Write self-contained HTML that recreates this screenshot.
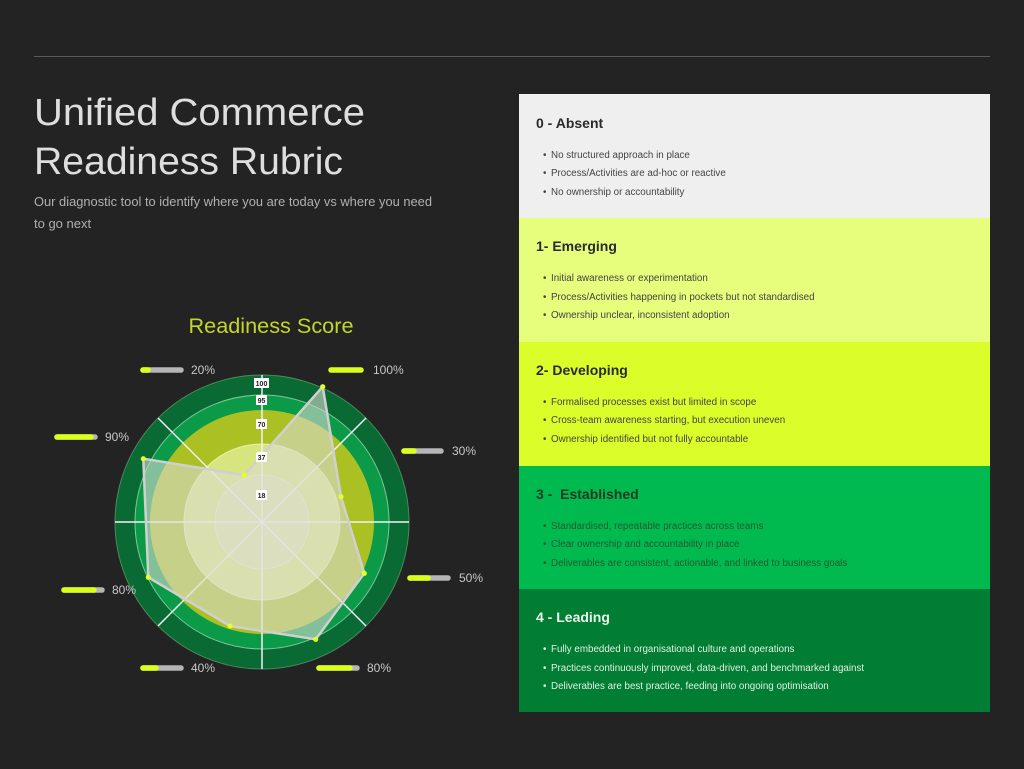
<!DOCTYPE html>
<html><head><meta charset="utf-8"><style>
html,body{margin:0;padding:0;background:#232323;}
svg{display:block;font-family:"Liberation Sans",sans-serif;}
</style></head><body>
<svg width="1024" height="769" viewBox="0 0 1024 769" xmlns="http://www.w3.org/2000/svg">
<rect width="1024" height="769" fill="#232323"/>
<line x1="34" y1="56.5" x2="990" y2="56.5" stroke="#5a5a5a" stroke-width="1"/>
<text x="34" y="125" font-size="38" fill="#dedede" textLength="331" lengthAdjust="spacingAndGlyphs">Unified Commerce</text>
<text x="34" y="174" font-size="38" fill="#dedede" textLength="309" lengthAdjust="spacingAndGlyphs">Readiness Rubric</text>
<text x="34" y="206" font-size="13" fill="#b0b0b0" textLength="398" lengthAdjust="spacingAndGlyphs">Our diagnostic tool to identify where you are today vs where you need</text>
<text x="34" y="228" font-size="13" fill="#b0b0b0">to go next</text>

<text x="271" y="333" font-size="21" fill="#c3d62a" text-anchor="middle" textLength="165" lengthAdjust="spacingAndGlyphs">Readiness Score</text>

<g transform="translate(262,522)">
<circle r="147" fill="#0a6a33" stroke="#4a8a5a" stroke-width="1"/>
<circle r="127" fill="#0a9a48" stroke="#7fc79a" stroke-width="1"/>
<circle r="112" fill="#abc022"/>
<circle r="78" fill="#d6e57e" stroke="#e8f0b0" stroke-width="1"/>
<circle r="47" fill="#dde3a8" stroke="#e8ecc8" stroke-width="1"/>
<g stroke="#f2f2f2" stroke-width="1.5">
<line x1="-147" y1="0" x2="147" y2="0"/>
<line x1="0" y1="-147" x2="0" y2="147"/>
<line x1="-104" y1="-104" x2="104" y2="104"/>
<line x1="104" y1="-104" x2="-104" y2="104"/>
</g>
</g>
<polygon points="322.7,386.7 341,496.7 364.3,573.3 315.7,639.3 230,626 148.3,577.3 143.3,458.7 244.3,475" fill="rgba(218,218,210,0.58)" stroke="#d0d0d0" stroke-width="2.5" stroke-linejoin="round"/>
<g fill="#e4ff2a">
<circle cx="322.7" cy="386.7" r="2.6"/><circle cx="341" cy="496.7" r="2.6"/><circle cx="364.3" cy="573.3" r="2.6"/>
<circle cx="315.7" cy="639.3" r="2.6"/><circle cx="230" cy="626" r="2.6"/><circle cx="148.3" cy="577.3" r="2.6"/>
<circle cx="143.3" cy="458.7" r="2.6"/><circle cx="244.3" cy="475" r="2.6"/>
</g>
<g font-size="7" font-weight="bold" fill="#222" text-anchor="middle">
<rect x="254" y="378" width="15" height="10" fill="#fff"/><text x="261.5" y="386">100</text>
<rect x="256" y="395" width="11" height="10" fill="#fff"/><text x="261.5" y="403">95</text>
<rect x="256" y="419" width="11" height="10" fill="#fff"/><text x="261.5" y="427">70</text>
<rect x="256" y="452" width="11" height="10" fill="#fff"/><text x="261.5" y="460">37</text>
<rect x="256" y="490" width="11" height="10" fill="#fff"/><text x="261.5" y="498">18</text>
</g>

<g stroke-linecap="round" stroke-width="5.5">
<line x1="143" y1="370" x2="181" y2="370" stroke="#b5b5b5"/><line x1="143" y1="370" x2="148" y2="370" stroke="#d9ff1a"/>
<line x1="331" y1="370" x2="361" y2="370" stroke="#d9ff1a"/>
<line x1="57" y1="437" x2="95" y2="437" stroke="#b5b5b5"/><line x1="57" y1="437" x2="91" y2="437" stroke="#d9ff1a"/>
<line x1="404" y1="451" x2="441" y2="451" stroke="#b5b5b5"/><line x1="404" y1="451" x2="414" y2="451" stroke="#d9ff1a"/>
<line x1="64" y1="590" x2="102" y2="590" stroke="#b5b5b5"/><line x1="64" y1="590" x2="94" y2="590" stroke="#d9ff1a"/>
<line x1="410" y1="578" x2="448" y2="578" stroke="#b5b5b5"/><line x1="410" y1="578" x2="428" y2="578" stroke="#d9ff1a"/>
<line x1="143" y1="668" x2="181" y2="668" stroke="#b5b5b5"/><line x1="143" y1="668" x2="156" y2="668" stroke="#d9ff1a"/>
<line x1="319" y1="668" x2="357" y2="668" stroke="#b5b5b5"/><line x1="319" y1="668" x2="350" y2="668" stroke="#d9ff1a"/>
</g>
<g font-size="12" fill="#c8c8c8">
<text x="191" y="374">20%</text><text x="373" y="374">100%</text>
<text x="105" y="441">90%</text><text x="452" y="455">30%</text>
<text x="112" y="594">80%</text><text x="459" y="582">50%</text>
<text x="191" y="672">40%</text><text x="367" y="672">80%</text>
</g>

<rect x="519" y="94" width="471" height="124" fill="#efefef"/>
<rect x="519" y="218" width="471" height="124" fill="#e7fd7c"/>
<rect x="519" y="342" width="471" height="124" fill="#dbfd29"/>
<rect x="519" y="466" width="471" height="123" fill="#00ba50"/>
<rect x="519" y="589" width="471" height="123" fill="#017d34"/>

<g font-size="14" font-weight="600">
<text x="536" y="128" fill="#2a2a2a">0 - Absent</text>
<text x="536" y="251" fill="#2a2a2a">1- Emerging</text>
<text x="536" y="375" fill="#2a2a2a">2- Developing</text>
<text x="536" y="499" fill="#1e3a22" xml:space="preserve">3 -  Established</text>
<text x="536" y="622" fill="#ecf5ec">4 - Leading</text>
</g>
<g font-size="9.8">
<g fill="#444">
<text x="543" y="158">•</text><text x="551" y="158">No structured approach in place</text>
<text x="543" y="176">•</text><text x="551" y="176">Process/Activities are ad-hoc or reactive</text>
<text x="543" y="195">•</text><text x="551" y="195">No ownership or accountability</text>
<text x="543" y="281">•</text><text x="551" y="281">Initial awareness or experimentation</text>
<text x="543" y="300">•</text><text x="551" y="300">Process/Activities happening in pockets but not standardised</text>
<text x="543" y="318">•</text><text x="551" y="318">Ownership unclear, inconsistent adoption</text>
<text x="543" y="405">•</text><text x="551" y="405">Formalised processes exist but limited in scope</text>
<text x="543" y="423">•</text><text x="551" y="423">Cross-team awareness starting, but execution uneven</text>
<text x="543" y="442">•</text><text x="551" y="442">Ownership identified but not fully accountable</text>
</g>
<g fill="#1f5a2e">
<text x="543" y="529">•</text><text x="551" y="529">Standardised, repeatable practices across teams</text>
<text x="543" y="547">•</text><text x="551" y="547">Clear ownership and accountability in place</text>
<text x="543" y="566">•</text><text x="551" y="566">Deliverables are consistent, actionable, and linked to business goals</text>
</g>
<g fill="#e2efe4">
<text x="543" y="652">•</text><text x="551" y="652">Fully embedded in organisational culture and operations</text>
<text x="543" y="671">•</text><text x="551" y="671">Practices continuously improved, data-driven, and benchmarked against</text>
<text x="543" y="689">•</text><text x="551" y="689">Deliverables are best practice, feeding into ongoing optimisation</text>
</g>
</g>
</svg>
</body></html>
